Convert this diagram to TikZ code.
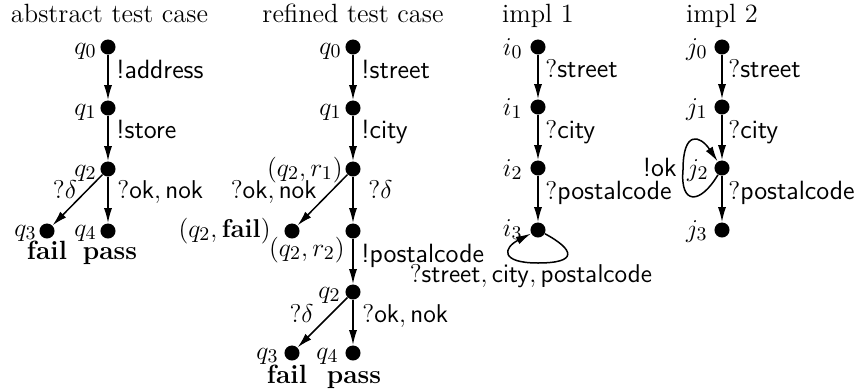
\documentclass[tikz,border=0pt]{standalone}
\usetikzlibrary{arrows.meta}
\begin{document}
\begin{tikzpicture}[x=0.016393cm,y=-0.016393cm,
  font=\fontsize{12.3}{14.7}\selectfont,
  st/.style={circle,fill=black,inner sep=0pt,minimum size=7pt},
  tr/.style={line width=0.7pt,-{Latex[length=7pt,width=3.8pt]}},
  bw/.style={anchor=base west,inner sep=0pt},
  be/.style={anchor=base east,inner sep=0pt},
  bc/.style={anchor=base,inner sep=0pt},
  ttl/.style={anchor=base,inner sep=0pt}]
\useasboundingbox (0,0) rectangle (861,392);
% titles
\node[ttl] (t1) at (109.5,22) {abstract test case};
\node[ttl] (t2) at (353,22) {refined test case};
\node[ttl] (t3) at (538,22) {impl 1};
\node[ttl] (t4) at (722,22) {impl 2};
% abstract test case
\node[st] (a0) at (108,47) {};
\node[st] (a1) at (108,108) {};
\node[st] (a2) at (108,169) {};
\node[st] (a3) at (47,231) {};
\node[st] (a4) at (108,231) {};
\draw[tr] (a0) -- (a1);
\draw[tr] (a1) -- (a2);
\draw[tr] (a2) -- (a3);
\draw[tr] (a2) -- (a4);
\node[be] (la0) at (97,54) {$q_0$};
\node[be] (la1) at (97,115) {$q_1$};
\node[be] (la2) at (97,176) {$q_2$};
\node[be] (la3) at (37,236) {$q_3$};
\node[be] (la4) at (97,236) {$q_4$};
\node[bw] (ea0) at (116,78) {\textsf{!address}};
\node[bw] (ea1) at (116,138) {\textsf{!store}};
\node[bc] (ea2) at (65,198) {$?\delta$};
\node[bw] (ea3) at (117,198) {$?\mathsf{ok},\mathsf{nok}$};
\node[bc] (fa) at (47,259) {\textbf{fail}};
\node[bc] (pa) at (110,259) {\textbf{pass}};
% refined test case
\node[st] (r0) at (353,47) {};
\node[st] (r1) at (353,108) {};
\node[st] (r2) at (353,169) {};
\node[st] (r3) at (292,231) {};
\node[st] (r4) at (353,231) {};
\node[st] (r5) at (353,292) {};
\node[st] (r6) at (292,353) {};
\node[st] (r7) at (353,353) {};
\draw[tr] (r0) -- (r1);
\draw[tr] (r1) -- (r2);
\draw[tr] (r2) -- (r3);
\draw[tr] (r2) -- (r4);
\draw[tr] (r4) -- (r5);
\draw[tr] (r5) -- (r6);
\draw[tr] (r5) -- (r7);
\node[be] (lr0) at (342,54) {$q_0$};
\node[be] (lr1) at (342,115) {$q_1$};
\node[be] (lr2) at (343,176) {$(q_2,r_1)$};
\node[be] (lr3) at (271,237) {$(q_2,\mathbf{fail})$};
\node[be] (lr4) at (345,256) {$(q_2,r_2)$};
\node[be] (lr5) at (341,298) {$q_2$};
\node[be] (lr6) at (279,359) {$q_3$};
\node[be] (lr7) at (339,359) {$q_4$};
\node[bw] (er0) at (361,78) {\textsf{!street}};
\node[bw] (er1) at (361,138) {\textsf{!city}};
\node[be] (er2) at (317,198) {$?\mathsf{ok},\mathsf{nok}$};
\node[bw] (er3) at (368,198) {$?\delta$};
\node[bw] (er4) at (361,262) {\textsf{!postalcode}};
\node[be] (er5) at (314,322) {$?\delta$};
\node[bw] (er6) at (362,322) {$?\mathsf{ok},\mathsf{nok}$};
\node[bc] (fr) at (287,383) {\textbf{fail}};
\node[bc] (pr) at (354,383) {\textbf{pass}};
% impl 1
\node[st] (i0) at (538,47) {};
\node[st] (i1) at (538,107) {};
\node[st] (i2) at (538,168) {};
\node[st] (i3) at (538,230) {};
\draw[tr] (i0) -- (i1);
\draw[tr] (i1) -- (i2);
\draw[tr] (i2) -- (i3);
\draw[tr] (i3) .. controls (575,250) and (578,263) .. (538,263)
             .. controls (500,263) and (503,248) .. (i3);
\node[be] (li0) at (523,55) {$i_0$};
\node[be] (li1) at (523,115) {$i_1$};
\node[be] (li2) at (523,176) {$i_2$};
\node[be] (li3) at (523,236) {$i_3$};
\node[bw] (ei0) at (545,77) {$?$\textsf{street}};
\node[bw] (ei1) at (545,138) {$?$\textsf{city}};
\node[bw] (ei2) at (545,199) {$?$\textsf{postalcode}};
\node[bc] (ei3) at (531,282) {$?\mathsf{street},\mathsf{city},\mathsf{postalcode}$};
% impl 2
\node[st] (j0) at (722,47) {};
\node[st] (j1) at (722,107) {};
\node[st] (j2) at (722,168) {};
\node[st] (j3) at (722,230) {};
\draw[tr] (j0) -- (j1);
\draw[tr] (j1) -- (j2);
\draw[tr] (j2) -- (j3);
\draw[tr] (j2) .. controls (700,205) and (680,205) .. (683,170)
             .. controls (683,130) and (700,135) .. (j2);
\node[be] (lj0) at (708,55) {$j_0$};
\node[be] (lj1) at (708,115) {$j_1$};
\node[be] (lj2) at (709,176) {$j_2$};
\node[be] (lj3) at (708,237) {$j_3$};
\node[be] (ej3) at (677,176) {\textsf{!ok}};
\node[bw] (ej0) at (728,77) {$?$\textsf{street}};
\node[bw] (ej1) at (728,138) {$?$\textsf{city}};
\node[bw] (ej2) at (728,199) {$?$\textsf{postalcode}};
\end{tikzpicture}
\end{document}
